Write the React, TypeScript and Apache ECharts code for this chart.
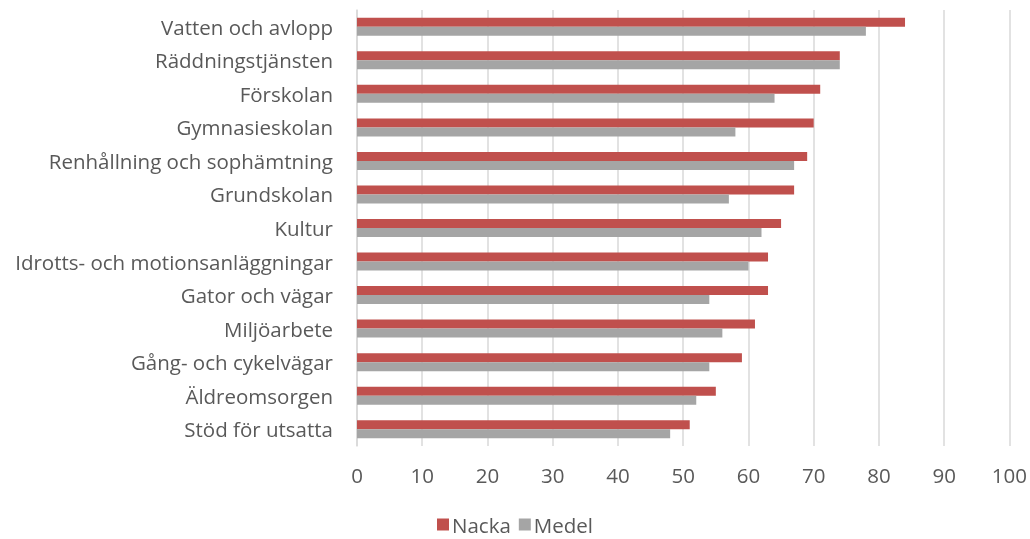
import React, { useEffect, useRef } from "react";
import * as echarts from "echarts";

const categories = [
  "Vatten och avlopp",
  "Räddningstjänsten",
  "Förskolan",
  "Gymnasieskolan",
  "Renhållning och sophämtning",
  "Grundskolan",
  "Kultur",
  "Idrotts- och motionsanläggningar",
  "Gator och vägar",
  "Miljöarbete",
  "Gång- och cykelvägar",
  "Äldreomsorgen",
  "Stöd för utsatta",
];
const nacka = [84, 74, 71, 70, 69, 67, 65, 63, 63, 61, 59, 55, 51];
const medel = [78, 74, 64, 58, 67, 57, 62, 60, 54, 56, 54, 52, 48];
const seriesNames = ["Nacka", "Medel"];

export default function App() {
  const ref = useRef<HTMLDivElement>(null);
  useEffect(() => {
    if (!ref.current) return;
    const chart = echarts.init(ref.current, undefined, { renderer: "svg" });
    const font = "'Open Sans', 'DejaVu Sans', sans-serif";
    chart.setOption({
      animation: false,
      textStyle: { fontFamily: font },
      grid: { left: 357, right: 20, top: 10, bottom: 93, containLabel: false },
      legend: {
        bottom: 4,
        padding: 0,
        left: "center",
        itemWidth: 12,
        itemHeight: 12,
        itemGap: 8,
        icon: "rect",
        textStyle: { fontSize: 20.5, color: "#595959", fontFamily: font, padding: [0, 0, 0, -2] },
        data: seriesNames,
      },
      xAxis: {
        type: "value",
        min: 0,
        max: 100,
        interval: 10,
        axisLine: { show: false },
        axisTick: { show: false },
        axisLabel: { fontSize: 20.5, color: "#595959", margin: 18, fontFamily: font },
        splitLine: { show: true, lineStyle: { color: "#d9d9d9", width: 1.5 } },
      },
      yAxis: {
        type: "category",
        inverse: true,
        data: categories,
        axisLine: { show: true, lineStyle: { color: "#d9d9d9", width: 1.5 } },
        axisTick: { show: false },
        axisLabel: { fontSize: 20.5, color: "#595959", margin: 24, fontFamily: font },
      },
      series: [
        {
          name: seriesNames[0],
          type: "bar",
          data: nacka,
          barWidth: 9,
          barGap: "0%",
          itemStyle: { color: "#c0504d" },
        },
        {
          name: seriesNames[1],
          type: "bar",
          data: medel,
          barWidth: 9,
          barGap: "0%",
          itemStyle: { color: "#a5a5a5" },
        },
      ],
    });
    return () => chart.dispose();
  }, []);
  return (
    <div
      ref={ref}
      style={{ position: "fixed", left: 0, top: 0, width: 1030, height: 539 }}
    />
  );
}
